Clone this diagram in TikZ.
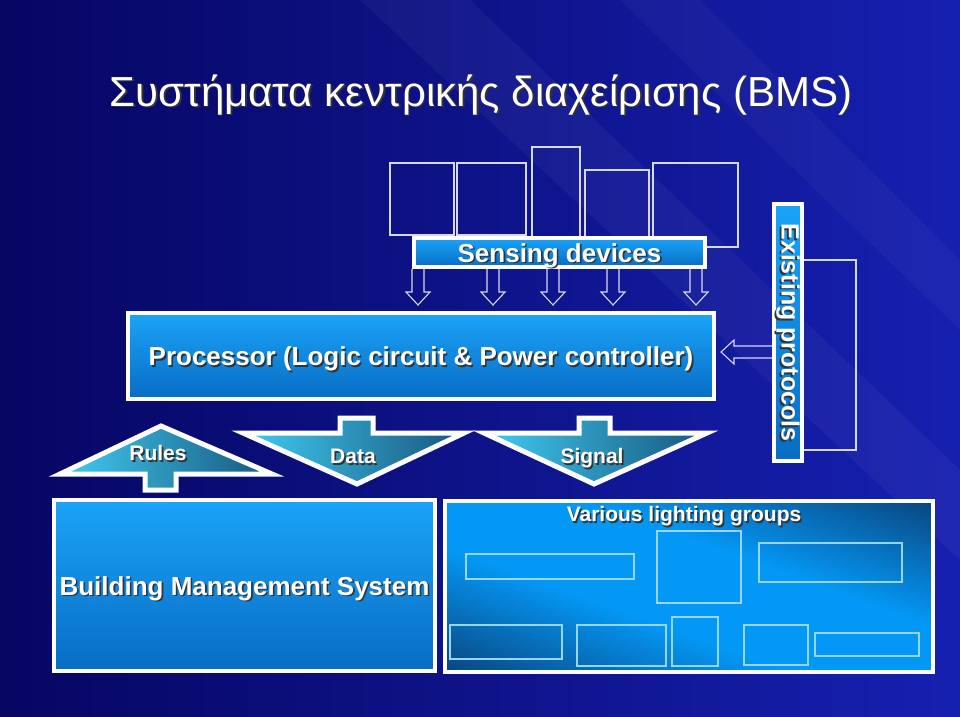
\documentclass[tikz,border=0pt]{standalone}
\usepackage{fontspec}
\setmainfont{Liberation Sans}
\definecolor{bgdark}{RGB}{6,6,98}
\definecolor{bglight}{RGB}{22,32,176}
\definecolor{boxtop}{RGB}{26,164,248}
\definecolor{boxbot}{RGB}{8,108,196}
\definecolor{arrowlt}{RGB}{64,204,242}
\definecolor{arrowdk}{RGB}{24,86,126}
\definecolor{bandlt}{RGB}{4,152,246}
\definecolor{banddk}{RGB}{10,72,130}
\definecolor{outline}{RGB}{214,216,240}
\definecolor{lampline}{RGB}{150,214,250}
\newcommand{\txtshadow}[1]{\makebox[0pt][l]{\hspace{1.6pt}\raisebox{-1.6pt}{\color{black!80}#1}}#1}

\begin{document}
\begin{tikzpicture}[x=1pt,y=-1pt,
  panel/.style={draw=white,line width=4pt,inner sep=0pt,top color=boxtop,bottom color=boxbot,text=white,font=\fontsize{26}{30}\selectfont\bfseries,text height=19pt,text depth=0pt},
  flow/.style={draw=white,line width=5pt,left color=arrowlt,right color=arrowdk},
  flowlabel/.style={text=white,font=\fontsize{21}{24}\selectfont\bfseries,text height=15pt,text depth=0pt},
  title/.style={text=white,font=\fontsize{42}{48}\selectfont,text height=30pt,text depth=0pt},
  sensor/.style={draw=outline,line width=1.2pt},
  lamp/.style={draw=lampline,line width=1.3pt},
  thinarrow/.style={draw=outline,line width=1.1pt},
  pics/hollowarrow/.style={code={\draw[thinarrow] (-6,0) -- (-6,#1) -- (-12,#1) -- (0,#1+13) -- (12,#1) -- (6,#1) -- (6,0);}}]
\fill[left color=bgdark,right color=bglight] (0,0) rectangle (960,716);
\fill[white,opacity=0.04] (360,0) -- (470,0) -- (960,470) -- (960,560) -- cycle;
\fill[white,opacity=0.03] (620,0) -- (700,0) -- (960,260) -- (960,330) -- cycle;
\node[title] (title) at (481,91) {\txtshadow{Συστήματα κεντρικής διαχείρισης (BMS)}};
\draw[sensor] (390,163) rectangle (454,235);
\draw[sensor] (457,163) rectangle (526,235);
\draw[sensor] (532,147) rectangle (580,240);
\draw[sensor] (585,170) rectangle (649,240);
\draw[sensor] (653,163) rectangle (738,247);
\node[panel,minimum width=291,minimum height=29] (sense) at (559.5,252.5) {\txtshadow{Sensing devices}};
\foreach \x in {418,493,553,613,696}
  \pic at (\x,269) {hollowarrow=23};
\node[panel,minimum width=586,minimum height=86] (proc) at (421,356) {\txtshadow{Processor (Logic circuit \& Power controller)}};
\draw[sensor] (790,260) rectangle (856,450);
\node[panel,rotate=-90,minimum width=257,minimum height=28,font=\fontsize{25}{30}\selectfont\bfseries,text height=18pt,text depth=5pt] (proto) at (788,332.5) {\txtshadow{Existing protocols}};
\pic[rotate=-90] at (772,352) {hollowarrow=38};
\draw[flow] (161,426) -- (272,474) -- (176,474) -- (176,490) -- (145,490) -- (145,474) -- (60,474) -- cycle;
\node[flowlabel] (rules) at (158,453) {\txtshadow{Rules}};
\draw[flow] (340,418) -- (373,418) -- (373,433) -- (464,433) -- (357,484) -- (243,433) -- (340,433) -- cycle;
\node[flowlabel] (data) at (353,456) {\txtshadow{Data}};
\draw[flow] (579,418) -- (610,418) -- (610,433) -- (707,433) -- (594,484) -- (484,433) -- (579,433) -- cycle;
\node[flowlabel] (signal) at (592,456) {\txtshadow{Signal}};
\node[panel,minimum width=381,minimum height=171] (bms) at (244.5,585.5) {\txtshadow{Building Management System}};
\begin{scope}
\clip (445,501) rectangle (933,672);
\begin{scope}[shift={(689,586.5)},rotate=70]
\foreach \t in {-210,-205,...,210} {
  \pgfmathtruncatemacro\p{max(0,min(100,(abs(\t)-45)/1.15))}
  \fill[banddk!\p!bandlt] (\t-3,-300) rectangle (\t+3,300);
}
\end{scope}
\end{scope}
\node[draw=white,line width=4pt,inner sep=0pt,minimum width=488,minimum height=171] (lights) at (689,586.5) {};
\node[flowlabel] (lightname) at (684,514) {\txtshadow{Various lighting groups}};
\draw[lamp] (466,554) rectangle (634,579);
\draw[lamp] (657,531) rectangle (741,603);
\draw[lamp] (759,543) rectangle (902,582);
\draw[lamp] (450,625) rectangle (562,659);
\draw[lamp] (577,625) rectangle (666,666);
\draw[lamp] (672,617) rectangle (718,666);
\draw[lamp] (744,625) rectangle (808,665);
\draw[lamp] (815,633) rectangle (919,656);
\end{tikzpicture}
\end{document}
